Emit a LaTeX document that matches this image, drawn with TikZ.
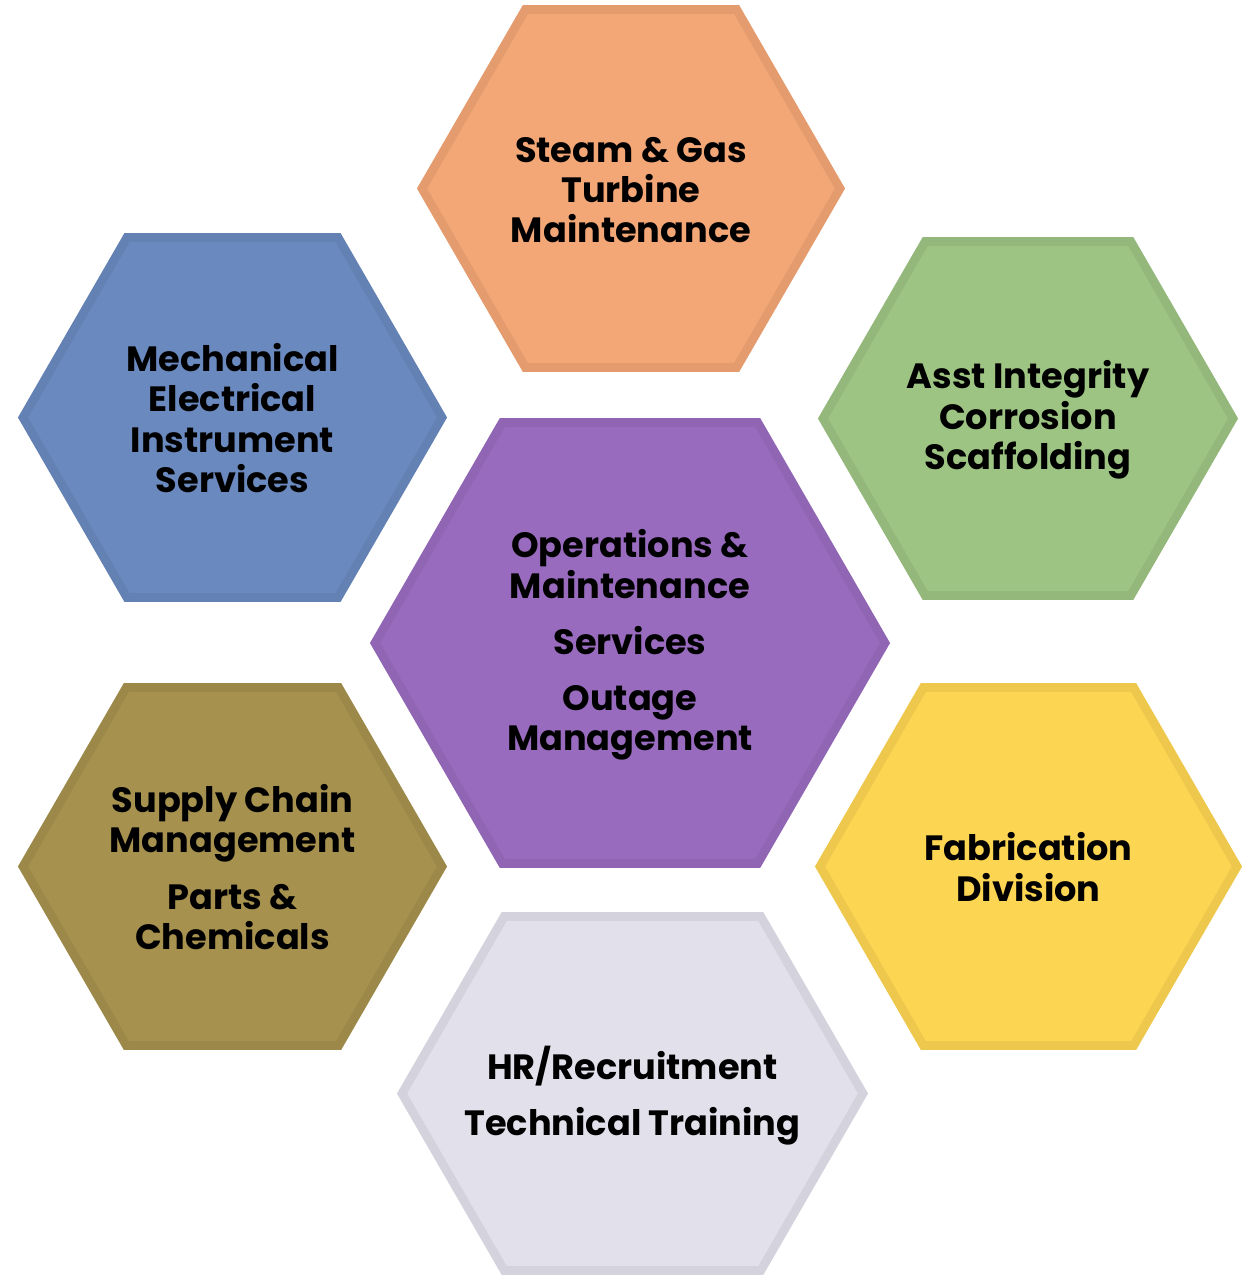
\documentclass[tikz,border=0pt]{standalone}
\usepackage{fontspec}
\setmainfont{Poppins}
\usetikzlibrary{positioning}
\definecolor{tangerine}{RGB}{243,166,118}
\definecolor{steel}{RGB}{106,137,190}
\definecolor{sage}{RGB}{157,196,131}
\definecolor{violet}{RGB}{153,107,190}
\definecolor{bronze}{RGB}{166,146,78}
\definecolor{sun}{RGB}{252,213,82}
\definecolor{mist}{RGB}{226,225,235}
\tikzset{
  % hexagon cell: width / height (px) / colour, drawn round (0,0)
  pics/hexcell/.style n args={3}{code={
    \filldraw[fill=#3,draw=#3!94!black,line width=5pt,line join=miter]
      ({-(#1-10)/2},0) -- ({-(#1-10)/2+(#2-9)*0.2887},{(#2-9)/2})
      -- ({(#1-10)/2-(#2-9)*0.2887},{(#2-9)/2}) -- ({(#1-10)/2},0)
      -- ({(#1-10)/2-(#2-9)*0.2887},{-(#2-9)/2})
      -- ({-(#1-10)/2+(#2-9)*0.2887},{-(#2-9)/2}) -- cycle;
  }},
  hextext/.style={font=\bfseries\fontsize{20}{23}\selectfont,align=center,text=black,inner sep=0pt},
}

\begin{document}
\begin{tikzpicture}[x=0.02cm,y=-0.02cm]
  \useasboundingbox (0,0) rectangle (1246,1276);
  % cells
  \pic at (631,188.5) {hexcell={428}{367}{tangerine}};
  \pic at (232.5,417.5) {hexcell={429}{369}{steel}};
  \pic at (1028,418.5) {hexcell={420}{363}{sage}};
  \pic at (630,643) {hexcell={520}{450}{violet}};
  \pic at (232.5,866.5) {hexcell={429}{367}{bronze}};
  \pic at (1028.5,866.5) {hexcell={427}{367}{sun}};
  \pic at (632.5,1093.5) {hexcell={471}{363}{mist}};
  % labels
  \node[hextext] (turbine) at (631,190) {Steam \& Gas\\Turbine\\Maintenance};
  \node[hextext] (mei) at (232.5,418) {Mechanical\\Electrical\\Instrument\\Services};
  \node[hextext] (asset) at (1028,420) {Asst Integrity\\Corrosion\\Scaffolding};
  \node[hextext] (om) at (630,645) {Operations \&\\Maintenance\\[9pt]Services\\[9pt]Outage\\Management};
  \node[hextext] (supply) at (232.5,867) {Supply Chain\\Management\\[9pt]Parts \&\\Chemicals};
  \node[hextext] (fab) at (1028.5,867) {Fabrication\\Division};
  \node[hextext] (hr) at (632.5,1096) {HR/Recruitment\\[9pt]Technical Training};
\end{tikzpicture}
\end{document}
